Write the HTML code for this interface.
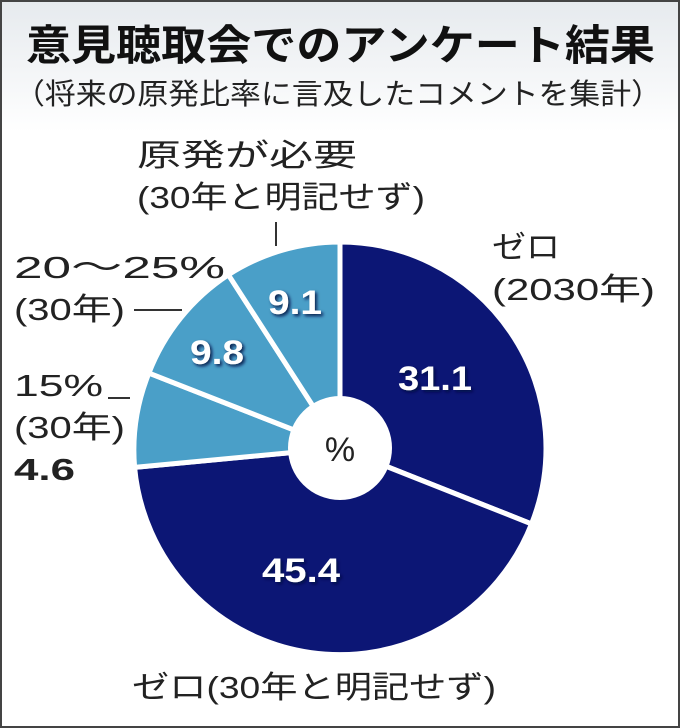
<!DOCTYPE html>
<html><head><meta charset="utf-8"><style>
body{margin:0}
.w{width:676px;height:724px;border:2px solid #444;background:linear-gradient(#e6eaee 0,#fff 130px,#fff 100%);position:relative;overflow:hidden;font-family:"Liberation Sans","Noto Sans CJK JP",sans-serif}
</style></head><body><div class="w">
<svg width="676" height="724" viewBox="2 2 676 724" xmlns="http://www.w3.org/2000/svg" style="position:absolute;left:0;top:0">
<defs><filter id="s" x="-20%" y="-20%" width="140%" height="140%"><feDropShadow dx="2" dy="2" stdDeviation="1.5" flood-color="#001040" flood-opacity="0.9"/></filter></defs>
<g font-family="Liberation Sans, Noto Sans CJK JP, sans-serif" lengthAdjust="spacingAndGlyphs">
<text x="26" y="60" font-size="42" font-weight="bold" fill="#111" textLength="629" lengthAdjust="spacingAndGlyphs">意見聴取会でのアンケート結果</text>
<text x="14" y="104" font-size="29" fill="#222" textLength="648" lengthAdjust="spacingAndGlyphs">（将来の原発比率に言及したコメントを集計）</text>
</g>
<g stroke="#fff" stroke-width="5" stroke-linejoin="round">
<path d="M340,448 L340,242 A206,206 0 0 1 531.5,523.9 Z" fill="#0c1675"/>
<path d="M340,448 L531.5,523.9 A206,206 0 0 1 134.6,467.4 Z" fill="#0c1675"/>
<path d="M340,448 L134.6,467.4 A206,206 0 0 1 148.9,373.1 Z" fill="#4a9fc8"/>
<path d="M340,448 L148.9,373.1 A206,206 0 0 1 228.4,274.8 Z" fill="#4a9fc8"/>
<path d="M340,448 L228.4,274.8 A206,206 0 0 1 340,242 Z" fill="#4a9fc8"/>
</g>
<circle cx="340" cy="448" r="52" fill="#fff"/>
<text x="340" y="461" font-size="34" text-anchor="middle" fill="#222" font-family="Liberation Sans, sans-serif">%</text>
<g font-family="Liberation Sans, sans-serif" font-weight="bold" font-size="34" fill="#fff" filter="url(#s)">
<text x="398" y="390" textLength="74" lengthAdjust="spacingAndGlyphs">31.1</text>
<text x="262" y="582" textLength="78" lengthAdjust="spacingAndGlyphs">45.4</text>
<text x="190" y="364" textLength="54" lengthAdjust="spacingAndGlyphs">9.8</text>
<text x="268" y="314" textLength="54" lengthAdjust="spacingAndGlyphs">9.1</text>
</g>
<g font-family="Liberation Sans, Noto Sans CJK JP, sans-serif" font-size="31" fill="#222">
<text x="137" y="166" textLength="220" lengthAdjust="spacingAndGlyphs">原発が必要</text>
<text x="137" y="208" textLength="288" lengthAdjust="spacingAndGlyphs">(30年と明記せず)</text>
<text x="492" y="258" textLength="68" lengthAdjust="spacingAndGlyphs">ゼロ</text>
<text x="492" y="300" textLength="163" lengthAdjust="spacingAndGlyphs">(2030年)</text>
<text x="14" y="278" textLength="211" lengthAdjust="spacingAndGlyphs">20～25%</text>
<text x="14" y="320" textLength="111" lengthAdjust="spacingAndGlyphs">(30年)</text>
<text x="14" y="396" textLength="89" lengthAdjust="spacingAndGlyphs">15%</text>
<text x="14" y="438" textLength="111" lengthAdjust="spacingAndGlyphs">(30年)</text>
<text x="14" y="480" font-weight="bold" textLength="61" lengthAdjust="spacingAndGlyphs">4.6</text>
<text x="132" y="698" textLength="364" lengthAdjust="spacingAndGlyphs">ゼロ(30年と明記せず)</text>
</g>
<g stroke="#333" stroke-width="2">
<line x1="276" y1="222" x2="276" y2="246"/>
<line x1="134" y1="310" x2="182" y2="310"/>
<line x1="108" y1="398" x2="130" y2="398"/>
</g>
</svg>
</div></body></html>
